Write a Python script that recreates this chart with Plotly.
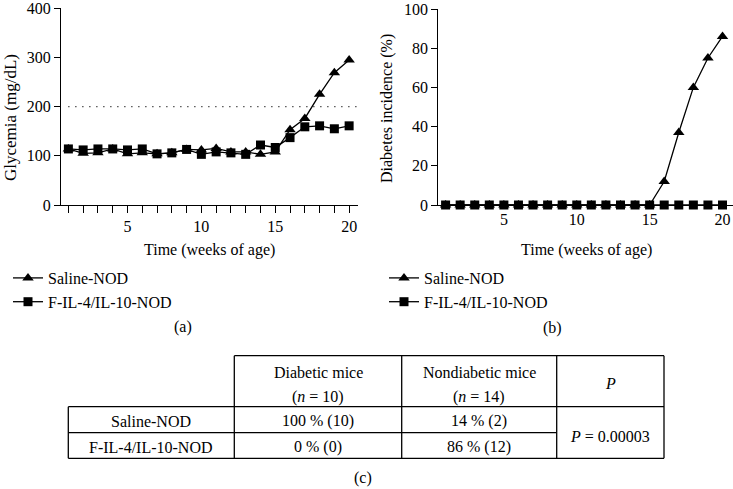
import plotly.graph_objects as go

W, H = 733, 489
FONT = "Liberation Serif"

# ---------------- data ----------------
weeks = [1, 2, 3, 4, 5, 6, 7, 8, 9, 10, 11, 12, 13, 14, 15, 16, 17, 18, 19, 20]
series_names = ["Saline-NOD", "F-IL-4/IL-10-NOD"]
glycemia_saline = [114, 105, 106, 114, 104, 106, 104, 106, 113, 112,
                   115, 108, 108, 103, 108, 153, 176, 225, 269, 295]
glycemia_fil = [114, 112, 114, 114, 112, 114, 104, 106, 113, 103,
                108, 106, 103, 122, 117, 137, 159, 161, 155, 161]
incidence_saline = [0, 0, 0, 0, 0, 0, 0, 0, 0, 0,
                    0, 0, 0, 0, 0, 12, 37, 60, 75, 86]
incidence_fil = [0, 0, 0, 0, 0, 0, 0, 0, 0, 0,
                 0, 0, 0, 0, 0, 0, 0, 0, 0, 0]
glycemia_threshold = 200
x_ticks = [5, 10, 15, 20]
glycemia_ticks = [0, 100, 200, 300, 400]
incidence_ticks = [0, 20, 40, 60, 80, 100]

table_header = ["Diabetic mice", "Nondiabetic mice"]
table_header_n = ["(<i>n</i> = 10)", "(<i>n</i> = 14)"]
table_rows = ["Saline-NOD", "F-IL-4/IL-10-NOD"]
table_diabetic = ["100 % (10)", "0 % (0)"]
table_nondiabetic = ["14 % (2)", "86 % (12)"]
table_p_header = "<i>P</i>"
table_p_value = "<i>P</i> = 0.00003"


def px(x):
    return x / W


def py(y):
    return 1 - y / H


fig = go.Figure()

markers = ["triangle-up", "square"]
msize = [10, 9]

# left panel (a)
for name, vals, sym, ms in zip(series_names, [glycemia_saline, glycemia_fil], markers, msize):
    fig.add_trace(go.Scatter(
        x=weeks, y=vals, name=name, mode="lines+markers",
        line=dict(color="black", width=1.3),
        marker=dict(symbol=sym, size=ms, color="black"),
        cliponaxis=False, xaxis="x", yaxis="y", legend="legend",
    ))

# right panel (b)
for name, vals, sym, ms in zip(series_names, [incidence_saline, incidence_fil], markers, msize):
    fig.add_trace(go.Scatter(
        x=weeks, y=vals, name=name, mode="lines+markers",
        line=dict(color="black", width=1.3),
        marker=dict(symbol=sym, size=ms, color="black"),
        cliponaxis=False, xaxis="x2", yaxis="y2", legend="legend2",
    ))

axis_common = dict(
    showline=True, linecolor="black", linewidth=1.3, showgrid=False, zeroline=False,
    tickfont=dict(family=FONT, size=16, color="black"),
    tickcolor="black", tickwidth=1.2, ticklabeloverflow="allow",
)

x_range = [0.5, 20.6]
x_range2 = [0.5, 20.72]

fig.update_layout(
    width=W, height=H, autosize=False,
    margin=dict(l=0, r=0, t=0, b=0, autoexpand=False),
    paper_bgcolor="white", plot_bgcolor="white",
    font=dict(family=FONT, size=16, color="black"),
    xaxis=dict(domain=[px(61), px(358)], range=x_range, anchor="y",
               tickmode="array", tickvals=x_ticks, ticks="outside", ticklen=7,
               minor=dict(tickmode="array", tickvals=weeks, ticks="outside",
                          ticklen=7, tickwidth=1.2, tickcolor="black"),
               **axis_common),
    yaxis=dict(domain=[py(205), py(8.3)], range=[0, 400], anchor="x",
               tickmode="array", tickvals=glycemia_ticks, ticks="outside", ticklen=6,
               **axis_common),
    xaxis2=dict(domain=[px(438.3), 1.0], range=x_range2, anchor="y2",
                tickmode="array", tickvals=x_ticks, ticks="",
                **axis_common),
    yaxis2=dict(domain=[py(205), py(9)], range=[0, 100], anchor="x2",
                tickmode="array", tickvals=incidence_ticks, ticks="outside", ticklen=6,
                **axis_common),
    legend=dict(x=px(8), y=py(261), xanchor="left", yanchor="top",
                bgcolor="rgba(0,0,0,0)", font=dict(family=FONT, size=16),
                tracegroupgap=0),
    legend2=dict(x=px(384), y=py(261), xanchor="left", yanchor="top",
                 bgcolor="rgba(0,0,0,0)", font=dict(family=FONT, size=16),
                 tracegroupgap=0),
    showlegend=True,
)

# threshold line on glycemia panel
fig.add_shape(type="line", xref="x", yref="y",
              x0=weeks[0], x1=x_range[1], y0=glycemia_threshold, y1=glycemia_threshold,
              line=dict(color="black", width=1.2, dash="1px,6px"))

annots = []


def txt(x, y, s, angle=0, size=16):
    annots.append(dict(x=px(x), y=py(y), xref="paper", yref="paper", text=s,
                       showarrow=False, textangle=angle, xanchor="center", yanchor="middle",
                       font=dict(family=FONT, size=size, color="black")))


# axis titles
txt(10, 118, "Glycemia (mg/dL)", angle=-90, size=17)
txt(387, 109, "Diabetes incidence (%)", angle=-90)
txt(209, 250, "Time (weeks of age)")
txt(586, 250, "Time (weeks of age)")
txt(183, 327, "(a)")
txt(552, 328, "(b)")

# ---------------- table (c) ----------------
cx = [68.3, 234.3, 401.7, 556.7, 664.0]
ry = [355.7, 406.7, 432.7, 458.3]
lw = dict(color="black", width=1.3)


def hline(x0, x1, y):
    fig.add_shape(type="line", xref="paper", yref="paper",
                  x0=px(x0), x1=px(x1), y0=py(y), y1=py(y), line=lw)


def vline(x, y0, y1):
    fig.add_shape(type="line", xref="paper", yref="paper",
                  x0=px(x), x1=px(x), y0=py(y0), y1=py(y1), line=lw)


hline(cx[1], cx[4], ry[0])
hline(cx[0], cx[4], ry[1])
hline(cx[0], cx[3], ry[2])
hline(cx[0], cx[4], ry[3])
vline(cx[0], ry[1], ry[3])
for x in cx[1:]:
    vline(x, ry[0], ry[3])

col_c = [(cx[i] + cx[i + 1]) / 2 for i in range(4)]
for i in range(2):
    txt(col_c[1 + i], 372, table_header[i])
    txt(col_c[1 + i], 397, table_header_n[i])
txt(col_c[3], 383, table_p_header)
row_y = [421, 447]
for r in range(2):
    txt(col_c[0], row_y[r], table_rows[r])
    txt(col_c[1], row_y[r], table_diabetic[r])
    txt(col_c[2], row_y[r], table_nondiabetic[r])
txt(col_c[3], 436, table_p_value)
txt(363, 478, "(c)")

fig.update_layout(annotations=annots)

fig.write_html("out.html",
               config={"displayModeBar": False},
               post_script="document.body.style.margin='0';document.body.style.padding='0';")
